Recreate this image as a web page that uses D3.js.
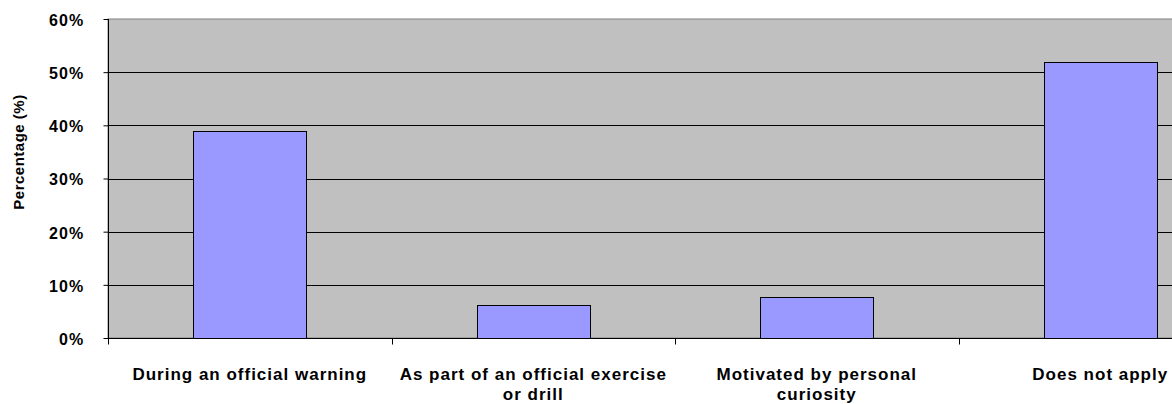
<!DOCTYPE html>
<html lang="en">
<head>
<meta charset="UTF-8">
<title>Percentage chart</title>
<style>
  body { margin: 0; background: #fff; }
  svg text { font-family: "Liberation Sans", Arial, sans-serif; font-weight: bold; fill: #000; }
</style>
</head>
<body>
<div id="chart"></div>
<script src="https://d3js.org/d3.v7.min.js"></script>
<script>
// data
const categories = [
  "During an official warning",
  "As part of an official exercise\nor drill",
  "Motivated by personal\ncuriosity",
  "Does not apply"
];
const values = [39, 6.3, 7.7, 52];
const yTicks = [0, 10, 20, 30, 40, 50, 60];

const svg = d3.select("#chart").append("svg").attr("width", 1172).attr("height", 404);
const margin = {top: 19, left: 108, bottom: 66};
const plotH = 404 - margin.top - margin.bottom;
const step = 283.5;
const plotW = step * categories.length; // runs past the right edge, as in the picture

const x = d3.scaleBand().domain(categories).range([0, plotW]).paddingInner(0).paddingOuter(0);
const y = d3.scaleLinear().domain([0, 60]).range([plotH, 0]);

const g = svg.append("g").attr("transform", "translate(" + margin.left + "," + margin.top + ")");

// plot area
g.append("rect").attr("width", plotW).attr("height", plotH)
  .attr("fill", "#c0c0c0").attr("stroke", "#808080").attr("stroke-width", 1);

// gridlines
g.selectAll(".grid").data(yTicks.filter(d => d > 0 && d < 60)).enter().append("line")
  .attr("x1", 0).attr("x2", plotW)
  .attr("y1", d => Math.round(y(d)) + 0.5).attr("y2", d => Math.round(y(d)) + 0.5)
  .attr("stroke", "#000").attr("stroke-width", 1);

// bars
const barW = 113;
g.selectAll(".bar").data(values).enter().append("rect")
  .attr("x", (d, i) => Math.round(x(categories[i]) + x.bandwidth() / 2 - barW / 2) + 0.5)
  .attr("y", d => Math.round(y(d)) + 0.5)
  .attr("width", barW)
  .attr("height", d => Math.round(y(0)) - Math.round(y(d)))
  .attr("fill", "#9999ff").attr("stroke", "#000").attr("stroke-width", 1);

// y axis
const yAxis = g.append("g").attr("transform", "translate(0.5,0)")
  .call(d3.axisLeft(y).tickValues(yTicks).tickFormat(d => d + "%").tickSize(5).tickPadding(19));
yAxis.select(".domain").attr("stroke", "#000").attr("d", "M0," + plotH + "V0");
yAxis.selectAll(".tick line").attr("stroke", "#000");
yAxis.selectAll(".tick text").attr("font-size", 16).attr("letter-spacing", 1.2)
  .attr("font-family", "'Liberation Sans', Arial, sans-serif").attr("font-weight", "bold").attr("dy", "0.4em");

// x axis
const xAxis = g.append("g").attr("transform", "translate(0," + (Math.round(plotH) + 0.5) + ")");
xAxis.append("line").attr("x1", 0).attr("x2", plotW).attr("stroke", "#000");
xAxis.selectAll(".xt").data(d3.range(categories.length + 1)).enter().append("line")
  .attr("x1", d => Math.round(d * x.step()) + 0.5).attr("x2", d => Math.round(d * x.step()) + 0.5)
  .attr("y1", 0).attr("y2", 6).attr("stroke", "#000");

const lbl = xAxis.selectAll(".lbl").data(categories).enter().append("text")
  .attr("text-anchor", "middle")
  .attr("font-size", 17).attr("letter-spacing", 1.0)
  .attr("transform", d => "translate(" + (x(d) + x.bandwidth() / 2) + ",41)");
lbl.each(function(d) {
  d3.select(this).selectAll("tspan").data(d.split("\n")).enter().append("tspan")
    .attr("x", 0).attr("dy", (t, i) => i === 0 ? 0 : 20).text(t => t);
});

// y title
svg.append("text").attr("transform", "translate(24,152) rotate(-90)")
  .attr("text-anchor", "middle").attr("font-size", 15).attr("letter-spacing", 0.5)
  .text("Percentage (%)");
</script>
</body>
</html>
